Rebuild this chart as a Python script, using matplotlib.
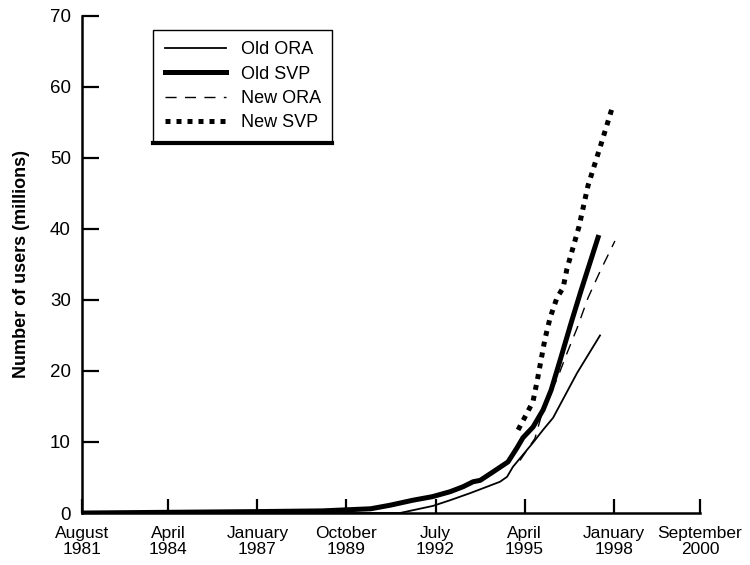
import matplotlib
matplotlib.use("Agg")
import matplotlib.pyplot as plt
from matplotlib.lines import Line2D

plt.rcParams['font.family'] = ['Liberation Sans', 'DejaVu Sans']

# tick dates (decimal years) and labels
tick_years = [1981.583, 1984.25, 1987.0, 1989.75, 1992.5, 1995.25, 1998.0, 2000.667]
tick_labels = ["August\n1981", "April\n1984", "January\n1987", "October\n1989",
               "July\n1992", "April\n1995", "January\n1998", "September\n2000"]

# series (decimal year, millions of users)
old_ora_x = [1981.58, 1991.40, 1992.42, 1992.95, 1993.57, 1994.09, 1994.49, 1994.71,
             1994.89, 1995.20, 1995.51, 1995.82, 1996.13, 1996.87, 1997.58]
old_ora_y = [0.0, 0.0, 1.0, 1.8, 2.8, 3.7, 4.4, 5.1, 6.5, 8.2, 9.9, 11.7, 13.4, 19.7, 25.0]

old_svp_x = [1981.58, 1984.25, 1987.0, 1989.0, 1990.5, 1991.1, 1991.8, 1992.4, 1992.95,
             1993.35, 1993.66, 1993.88, 1994.28, 1994.74, 1995.02, 1995.2, 1995.51,
             1995.82, 1996.07, 1996.38, 1996.69, 1997.0, 1997.52]
old_svp_y = [0.0, 0.1, 0.2, 0.3, 0.6, 1.1, 1.8, 2.3, 3.0, 3.7, 4.4, 4.6, 5.8, 7.2, 9.2,
             10.6, 12.1, 14.5, 17.3, 22.0, 26.8, 31.4, 38.8]

new_ora_x = [1995.11, 1995.57, 1995.88, 1996.25, 1996.56, 1996.87, 1997.21, 1997.58, 1998.04]
new_ora_y = [7.4, 10.5, 15.5, 18.8, 22.5, 26.0, 30.3, 34.0, 38.3]

new_svp_x = [1995.05, 1995.33, 1995.51, 1995.64, 1995.88, 1996.04, 1996.25, 1996.44,
             1996.56, 1996.93, 1997.21, 1997.61, 1997.98]
new_svp_y = [11.7, 14.1, 15.7, 18.6, 24.5, 27.5, 30.3, 31.7, 34.4, 40.3, 46.1, 51.9, 57.4]

fig = plt.figure(figsize=(7.5, 5.65), dpi=100)
ax = fig.add_axes([0.1093, 0.092, 0.824, 0.88])

ax.plot(old_ora_x, old_ora_y, color="black", lw=1.3, label="Old ORA")
ax.plot(old_svp_x, old_svp_y, color="black", lw=3.6, label="Old SVP")
ax.plot(new_ora_x, new_ora_y, color="black", lw=1.0, dashes=(8, 6), label="New ORA")
ax.plot(new_svp_x, new_svp_y, color="black", lw=3.6, dashes=(1, 1.2),
        dash_capstyle="butt", label="New SVP")

ax.set_xlim(tick_years[0], tick_years[-1])
ax.set_ylim(0, 70)
ax.set_xticks(tick_years)
ax.set_xticklabels(tick_labels, fontsize=12.5, linespacing=1.1)
ax.set_yticks(range(0, 71, 10))
ax.tick_params(axis="y", direction="in", length=12, width=1.6, labelsize=13.5, pad=8)
ax.tick_params(axis="x", direction="in", length=10, width=1.6, pad=9)
for s in ("top", "right"):
    ax.spines[s].set_visible(False)
for s in ("left", "bottom"):
    ax.spines[s].set_linewidth(1.8)

ax.set_ylabel("Number of users (millions)", fontsize=13, fontweight="bold", labelpad=14)

leg = ax.legend(loc="upper left", bbox_to_anchor=(0.115, 0.972), borderaxespad=0,
                fontsize=13, handlelength=3.4, handletextpad=0.8, labelspacing=0.4,
                borderpad=0.65, fancybox=False, framealpha=1, edgecolor="black")
leg.get_frame().set_linewidth(1.0)

# heavy bottom edge under the legend box
fig.canvas.draw()
bb = leg.get_window_extent().transformed(fig.transFigure.inverted())
fig.add_artist(Line2D([bb.x0, bb.x1], [bb.y0, bb.y0], transform=fig.transFigure,
                      color="black", lw=3))

fig.savefig("out.png", dpi=100)
